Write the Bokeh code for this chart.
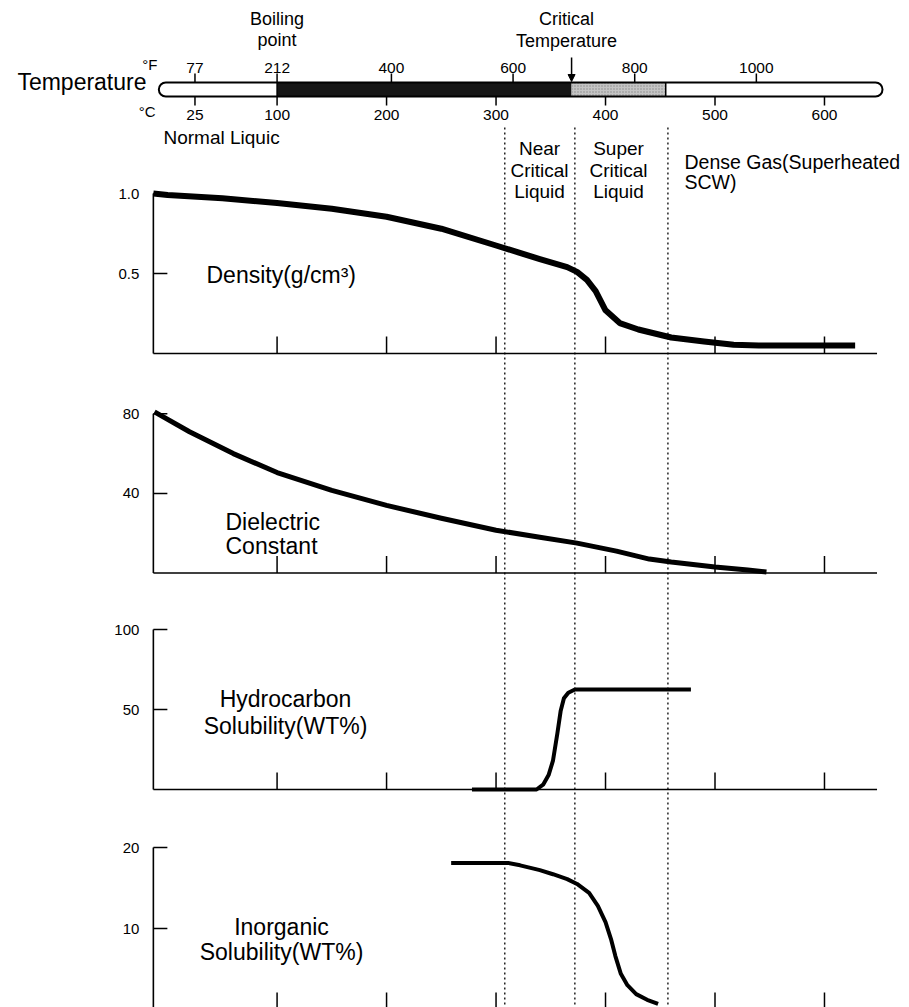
import numpy as np
from bokeh.plotting import figure
from bokeh.models import Range1d, Arrow, NormalHead
from bokeh.core.properties import value
from bokeh.embed import file_html
from bokeh.resources import INLINE

# ---------------- data (temperatures in °C) ----------------
density_t = [-13, 0, 50, 100, 150, 200, 250, 300, 340, 365, 374, 383, 391, 400, 413, 430, 460, 490, 517, 540, 628]
density_v = [1.00, 0.99, 0.97, 0.94, 0.905, 0.855, 0.78, 0.675, 0.59, 0.54, 0.51, 0.46, 0.39, 0.27, 0.19, 0.15, 0.10, 0.075, 0.055, 0.05, 0.05]

dielectric_t = [-12, 20, 60, 100, 150, 200, 250, 300, 340, 374, 410, 440, 460, 500, 530, 547]
dielectric_v = [81, 71, 60, 50.5, 41.5, 34, 27.5, 21.5, 18, 15, 11, 7, 5.5, 3, 1.5, 0.5]

hydro_t = [278, 337, 343, 348, 352, 356, 359, 362, 366, 372, 478]
hydro_v = [0, 0, 3, 9, 18, 35, 49, 57, 60.5, 62.5, 62.5]

inorg_t = [259, 311, 322, 340, 352, 365, 374, 385, 393, 400, 405, 409, 414, 420, 428, 438, 448]
inorg_v = [18.1, 18.1, 17.8, 17.2, 16.7, 16.1, 15.5, 14.4, 12.8, 10.8, 8.7, 6.6, 4.4, 3.0, 1.9, 1.2, 0.7]

celsius_ticks = [25, 100, 200, 300, 400, 500, 600]
fahrenheit_ticks = [77, 212, 400, 600, 800, 1000]
panel_xticks = [100, 200, 300, 400, 500, 600]
region_bounds_c = [308, 372, 457]
boiling_point_c = 100
critical_temp_c = 369
supercritical_end_c = 455
bar_range_c = [-8, 653]
axis_range_c = [-13, 648]

density_yticks = [0.5, 1.0]
dielectric_yticks = [40, 80]
hydro_yticks = [50, 100]
inorg_yticks = [10, 20]

# ---------------- layout ----------------
FONT = value("Liberation Sans")
W, H = 909, 1007
ORIGIN = 0
PAGE_TOP, PAGE_BOTTOM = ORIGIN, ORIGIN + H
PX_PER_C = 1.0948
ZERO_X = 167.1


def cx(px):
    return (px - ZERO_X) / PX_PER_C


def f2c(f):
    return (f - 32) * 5.0 / 9.0


p = figure(width=W, height=H, x_range=Range1d(cx(ORIGIN), cx(ORIGIN + W)),
           y_range=Range1d(PAGE_BOTTOM, PAGE_TOP),
           x_axis_type=None, y_axis_type=None, toolbar_location=None,
           output_backend="svg", min_border=0, outline_line_color=None)
p.xgrid.visible = False
p.ygrid.visible = False
p.background_fill_color = "white"


def txt(x, y, s, size, align="center", **kw):
    p.text(x=[x], y=[y], text=[s], text_font=FONT, text_font_size=value(size),
           text_align=align, text_baseline="middle", text_color="black", **kw)


# ---------------- temperature bar ----------------
bar_top, bar_bot = 82, 96
p.quad(left=[bar_range_c[0]], right=[bar_range_c[1]], top=[bar_top], bottom=[bar_bot],
       fill_color="white", line_color=None, border_radius=7)
p.quad(left=[boiling_point_c], right=[critical_temp_c], top=[bar_top], bottom=[bar_bot],
       fill_color="#161616", line_color=None)
p.quad(left=[critical_temp_c], right=[supercritical_end_c], top=[bar_top], bottom=[bar_bot],
       fill_color="#c4c4c4", line_color=None, hatch_pattern="dot", hatch_color="#8a8a8a",
       hatch_scale=3, hatch_weight=1)
p.quad(left=[bar_range_c[0]], right=[bar_range_c[1]], top=[bar_top], bottom=[bar_bot],
       fill_color=None, line_color="black", line_width=2, border_radius=7)
p.segment(x0=[boiling_point_c, supercritical_end_c], y0=[bar_top] * 2,
          x1=[boiling_point_c, supercritical_end_c], y1=[bar_bot] * 2,
          line_color="black", line_width=1.5)

fx = [f2c(f) for f in fahrenheit_ticks]
p.segment(x0=fx, y0=[bar_top] * len(fx), x1=fx, y1=[bar_top - 9] * len(fx),
          line_color="black", line_width=1.5)
p.segment(x0=celsius_ticks, y0=[bar_bot] * len(celsius_ticks), x1=celsius_ticks,
          y1=[bar_bot + 9] * len(celsius_ticks), line_color="black", line_width=1.5)
p.text(x=fx, y=[67] * len(fx), text=[str(f) for f in fahrenheit_ticks], text_font=FONT,
       text_font_size=value("15.5px"), text_align="center", text_baseline="middle")
p.text(x=celsius_ticks, y=[114] * len(celsius_ticks), text=[str(c) for c in celsius_ticks],
       text_font=FONT, text_font_size=value("15.5px"), text_align="center", text_baseline="middle")
txt(cx(157), 64, "°F", "15px", align="right")
txt(cx(155), 111, "°C", "15px", align="right")
txt(cx(146), 81, "Temperature", "23px", align="right")

txt(boiling_point_c, 18, "Boiling", "18px")
txt(boiling_point_c, 39, "point", "18px")
txt(cx(566), 18, "Critical", "18px")
txt(cx(566), 40, "Temperature", "18px")
p.add_layout(Arrow(end=NormalHead(size=7, fill_color="black", line_color="black"),
                   x_start=critical_temp_c, y_start=57, x_end=critical_temp_c, y_end=81,
                   line_width=1.5, line_color="black"))

txt(cx(163), 137, "Normal Liquic", "19px", align="left")

# region labels
for i, s in enumerate(["Near", "Critical", "Liquid"]):
    txt(cx(539), 148 + 21.5 * i, s, "19px")
for i, s in enumerate(["Super", "Critical", "Liquid"]):
    txt(cx(618), 148 + 21.5 * i, s, "19px")
txt(cx(684), 161.5, "Dense  Gas(Superheated", "19.5px", align="left")
txt(cx(684), 181.5, "SCW)", "19.5px", align="left")

# dotted region boundaries
p.segment(x0=region_bounds_c, y0=[127] * 3, x1=region_bounds_c, y1=[PAGE_BOTTOM] * 3,
          line_color="black", line_width=1.3, line_dash="2 3")


# ---------------- panels ----------------
def panel(name, y0, k, t, v, yticks, ylabels, lw):
    p.extra_y_ranges[name] = Range1d((y0 - PAGE_BOTTOM) / k, (y0 - PAGE_TOP) / k)
    kw = dict(y_range_name=name, line_color="black")
    p.segment(x0=[axis_range_c[0]], y0=[0], x1=[axis_range_c[1]], y1=[0], line_width=1.6, **kw)
    p.segment(x0=[axis_range_c[0]], y0=[0], x1=[axis_range_c[0]], y1=[max(yticks)], line_width=1.6, **kw)
    n = len(panel_xticks)
    p.segment(x0=panel_xticks, y0=[0] * n, x1=panel_xticks, y1=[17.0 / k] * n, line_width=1.5, **kw)
    m = len(yticks)
    p.segment(x0=[axis_range_c[0]] * m, y0=yticks, x1=[axis_range_c[0] + 14 / PX_PER_C] * m,
              y1=yticks, line_width=1.5, **kw)
    p.text(x=[axis_range_c[0] - 14 / PX_PER_C] * m, y=yticks, text=ylabels, text_font=FONT,
           text_font_size=value("15px"), text_align="right", text_baseline="middle",
           y_range_name=name)
    p.line(t, v, line_width=lw, line_color="black", line_join="round", y_range_name=name)


panel("density", 353, 160.0, density_t, density_v, density_yticks, ["0.5", "1.0"], 6)
panel("dielectric", 572.5, 1.99, dielectric_t, dielectric_v, dielectric_yticks, ["40", "80"], 5)
panel("hydro", 789, 1.6, hydro_t, hydro_v, hydro_yticks, ["50", "100"], 4)
panel("inorg", 1009, 8.1, inorg_t, inorg_v, inorg_yticks, ["10", "20"], 4)

# panel titles
txt(cx(206), 274, "Density(g/cm³)", "23px", align="left")
txt(cx(225), 521, "Dielectric", "23px", align="left")
txt(cx(225), 545, "Constant", "23px", align="left")
txt(cx(285), 698, "Hydrocarbon", "23px")
txt(cx(285), 725, "Solubility(WT%)", "23px")
txt(cx(281), 926.5, "Inorganic", "23px")
txt(cx(281), 951.5, "Solubility(WT%)", "23px")

open("out.html", "w").write(file_html(p, INLINE))
